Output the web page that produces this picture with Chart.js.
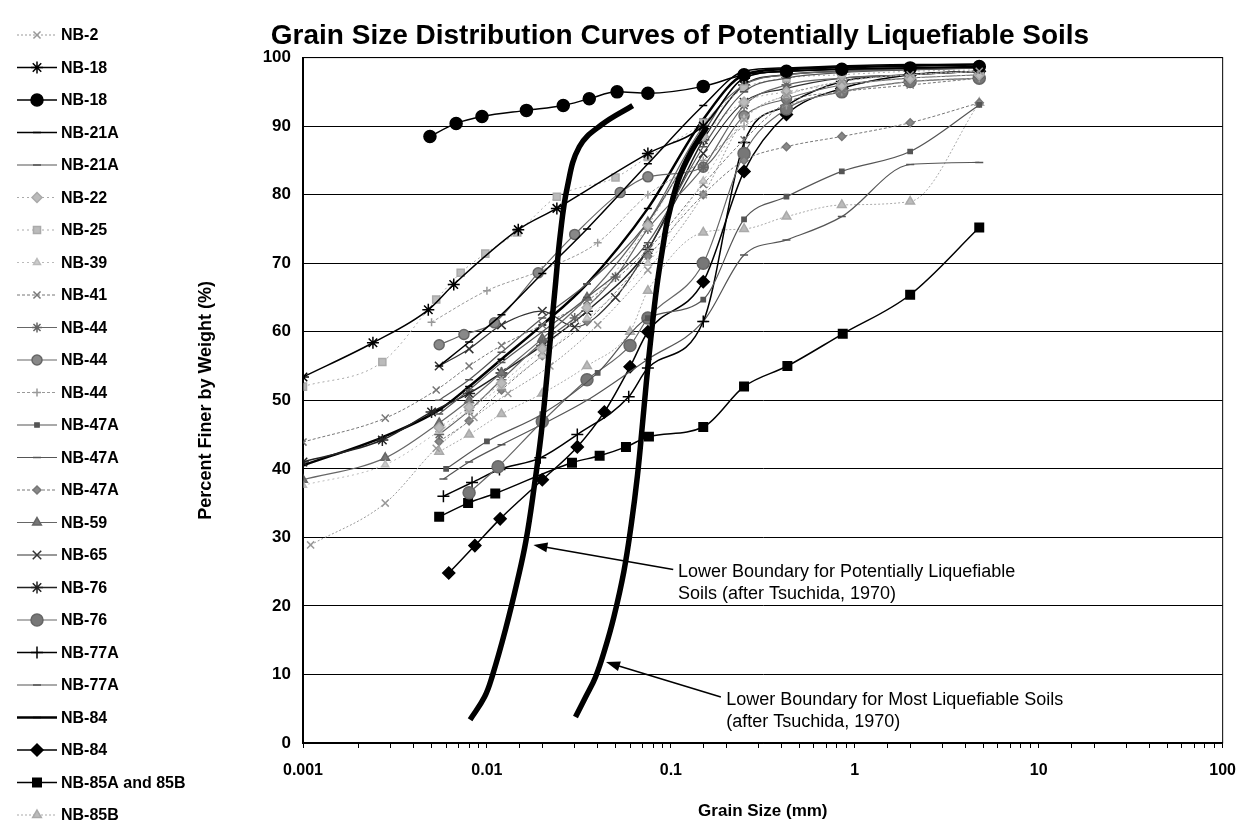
<!DOCTYPE html>
<html>
<head>
<meta charset="utf-8">
<script src="https://cdn.jsdelivr.net/npm/chart.js@4.4.1/dist/chart.umd.min.js"></script>
<style>
html, body { margin: 0; padding: 0; background: #fff; }
#wrap { width: 1249px; height: 828px; }
</style>
</head>
<body>
<div id="wrap"><canvas id="grainChart"></canvas></div>
<script>
// Grain size curves, [size mm, percent finer]
const seriesNames = ['NB-2', 'NB-18', 'NB-18', 'NB-21A', 'NB-21A', 'NB-22', 'NB-25', 'NB-39', 'NB-41',
    'NB-44', 'NB-44', 'NB-44', 'NB-47A', 'NB-47A', 'NB-47A', 'NB-59', 'NB-65', 'NB-76', 'NB-76',
    'NB-77A', 'NB-77A', 'NB-84', 'NB-84', 'NB-85A and 85B', 'NB-85B'];

const nb2 = [[0.0011, 28.9], [0.0028, 35.0], [0.0053, 43.0], [0.0085, 47.5], [0.013, 51], [0.022, 55], [0.04, 61], [0.075, 69], [0.15, 80], [0.25, 91], [0.425, 94.5], [0.85, 96.5], [2.0, 97.5], [4.75, 98]];
const nb18Star = [[0.001, 53.4], [0.0024, 58.4], [0.0048, 63.2], [0.0066, 66.9], [0.0148, 74.9], [0.024, 78], [0.075, 86], [0.15, 90], [0.25, 97], [0.425, 98], [0.85, 98.3], [2.0, 98.5], [4.75, 98.6]];
const nb18Dot = [[0.0049, 88.5], [0.0068, 90.4], [0.0094, 91.4], [0.0164, 92.3], [0.026, 93], [0.036, 94], [0.051, 95], [0.075, 94.8], [0.15, 95.8], [0.25, 97.5], [0.425, 98], [0.85, 98.3], [2.0, 98.5], [4.75, 98.7]];
const nb21a1 = [[0.0055, 55], [0.008, 58.5], [0.012, 62.5], [0.02, 68.5], [0.035, 75], [0.075, 84.5], [0.15, 93], [0.25, 98], [0.425, 98.5], [0.85, 98.8], [2.0, 99], [4.75, 99]];
const nb21a2 = [[0.0055, 48], [0.008, 51.5], [0.012, 55.5], [0.02, 60], [0.035, 65], [0.075, 73], [0.15, 87], [0.25, 95], [0.425, 97], [0.85, 97.8], [2.0, 98.2], [4.75, 98.5]];
const nb22 = [[0.0055, 46], [0.008, 49], [0.012, 52.5], [0.02, 57.5], [0.035, 63.5], [0.075, 75.5], [0.15, 88.5], [0.25, 93.5], [0.425, 95], [0.85, 96], [2.0, 97], [4.75, 97.5]];
const nb25 = [[0.001, 52], [0.0027, 55.6], [0.0053, 64.7], [0.0072, 68.6], [0.0098, 71.4], [0.0146, 74.5], [0.024, 79.7], [0.05, 82.5], [0.075, 85.5], [0.15, 90.5], [0.25, 95.5], [0.425, 97], [0.85, 97.5], [2.0, 98], [4.75, 98.2]];
const nb39 = [[0.001, 37.6], [0.0028, 40.6], [0.0055, 45.5], [0.008, 48.5], [0.012, 52], [0.02, 56.5], [0.035, 62], [0.075, 70], [0.15, 82], [0.25, 91], [0.425, 94.5], [0.85, 96.5], [2.0, 97.5], [4.75, 98]];
const nb41 = [[0.001, 43.9], [0.0028, 47.4], [0.0053, 51.5], [0.008, 55], [0.012, 58], [0.02, 61], [0.035, 64.5], [0.075, 72], [0.15, 81.5], [0.25, 88], [0.425, 93.4], [0.85, 95], [2.0, 96], [4.75, 97]];
const nb44Star = [[0.0055, 45], [0.008, 48.5], [0.012, 53], [0.02, 58.5], [0.03, 62], [0.05, 68], [0.075, 75], [0.15, 84], [0.25, 93], [0.425, 96], [0.85, 97], [2.0, 97.5], [4.75, 98]];
const nb44Dot = [[0.0055, 58.1], [0.0075, 59.6], [0.011, 61.3], [0.019, 68.6], [0.03, 74.2], [0.053, 80.3], [0.075, 82.6], [0.15, 84], [0.25, 91.5], [0.425, 94], [0.85, 96], [2.0, 97], [4.75, 97.5]];
const nb44Plus = [[0.005, 61.4], [0.01, 66], [0.02, 69], [0.04, 73], [0.075, 80], [0.15, 85], [0.25, 90], [0.425, 93], [0.85, 95], [2.0, 96.5], [4.75, 97]];
const nb47a1 = [[0.006, 40], [0.01, 44], [0.02, 48], [0.04, 54], [0.075, 62], [0.15, 64.7], [0.25, 76.4], [0.425, 79.7], [0.85, 83.4], [2.0, 86.3], [4.75, 93.1]];
const nb47a2 = [[0.0055, 50], [0.008, 53], [0.012, 57], [0.02, 62], [0.035, 67], [0.075, 76], [0.15, 89], [0.25, 97], [0.425, 98], [0.85, 98.3], [2.0, 98.5], [4.75, 98.7]];
const nb47a3 = [[0.0055, 44], [0.008, 47], [0.012, 51.5], [0.02, 56.5], [0.035, 61.5], [0.075, 71], [0.15, 80], [0.25, 85], [0.425, 87], [0.85, 88.5], [2.0, 90.5], [4.75, 93.4]];
const nb59 = [[0.001, 38.4], [0.0028, 41.6], [0.0055, 46.7], [0.008, 50], [0.012, 54], [0.02, 59], [0.035, 65], [0.075, 76], [0.15, 90], [0.25, 96], [0.425, 97.5], [0.85, 98], [2.0, 98.3], [4.75, 98.5]];
const nb65 = [[0.0055, 55], [0.008, 57.5], [0.012, 61], [0.02, 63], [0.03, 60.7], [0.05, 65], [0.075, 72], [0.15, 86], [0.25, 93.5], [0.425, 95.5], [0.85, 97], [2.0, 97.5], [4.75, 98]];
const nb76Star = [[0.001, 41], [0.0027, 44.2], [0.005, 48.3], [0.008, 51], [0.012, 54], [0.02, 58], [0.035, 63], [0.075, 72], [0.15, 88], [0.25, 96], [0.425, 97.5], [0.85, 98], [2.0, 98.3], [4.75, 98.5]];
const nb76Dot = [[0.008, 36.5], [0.0115, 40.3], [0.02, 46.9], [0.035, 53], [0.06, 58], [0.075, 62], [0.15, 70], [0.25, 86], [0.425, 92.5], [0.85, 95], [2.0, 96.5], [4.75, 97]];
const nb77aPlus = [[0.0058, 36], [0.0083, 38], [0.0117, 39.9], [0.0195, 41.6], [0.031, 45], [0.059, 50.5], [0.075, 54.7], [0.15, 61.5], [0.25, 87.6], [0.425, 93], [0.85, 96.5], [2.0, 97.5], [4.75, 98]];
const nb77aDash = [[0.0058, 38.5], [0.008, 41], [0.012, 43.5], [0.02, 46.5], [0.035, 50], [0.075, 56], [0.15, 61.5], [0.25, 71.2], [0.425, 73.4], [0.85, 76.8], [2.0, 84.4], [4.75, 84.7]];
const nb84Line = [[0.001, 40.5], [0.0027, 44.6], [0.0055, 48.6], [0.008, 52], [0.012, 56], [0.02, 61], [0.035, 67], [0.075, 78], [0.15, 91], [0.25, 97.5], [0.425, 98.3], [0.85, 98.6], [2.0, 98.8], [4.75, 99]];
const nb84Diamond = [[0.0062, 24.8], [0.0086, 28.8], [0.0118, 32.7], [0.02, 38.4], [0.031, 43.2], [0.0435, 48.3], [0.06, 54.9], [0.075, 60], [0.15, 67.3], [0.25, 83.4], [0.425, 91.7], [0.85, 95.5], [2.0, 97.5], [4.75, 98]];
const nb85ab = [[0.0055, 33], [0.0079, 35], [0.0111, 36.4], [0.029, 40.9], [0.041, 41.9], [0.057, 43.2], [0.076, 44.7], [0.15, 46.1], [0.25, 52], [0.43, 55], [0.86, 59.7], [2.0, 65.4], [4.75, 75.2]];
const nb85b = [[0.0055, 42.5], [0.008, 45], [0.012, 48], [0.02, 51], [0.035, 55], [0.06, 60], [0.075, 66], [0.15, 74.5], [0.25, 75], [0.425, 76.8], [0.85, 78.5], [2.0, 79], [4.75, 93.4]];

const seriesData = [nb2, nb18Star, nb18Dot, nb21a1, nb21a2, nb22, nb25, nb39, nb41, nb44Star, nb44Dot, nb44Plus,
    nb47a1, nb47a2, nb47a3, nb59, nb65, nb76Star, nb76Dot, nb77aPlus, nb77aDash, nb84Line, nb84Diamond, nb85ab, nb85b];

// Tsuchida (1970) boundary curves
const boundPotential = [[0.0081, 3.4], [0.0097, 6.7], [0.0107, 9.8], [0.0126, 16.5], [0.0146, 23.5], [0.0163, 29.5], [0.0181, 37.5], [0.0197, 45], [0.0211, 53], [0.0223, 60], [0.0236, 67], [0.025, 74], [0.0273, 81], [0.0318, 87], [0.042, 90.2], [0.062, 93]];
const boundMost = [[0.0303, 3.8], [0.0344, 6.7], [0.0389, 9.6], [0.0437, 13.6], [0.049, 18.4], [0.0555, 25], [0.061, 32], [0.0658, 39], [0.0698, 46], [0.0735, 52.5], [0.0778, 59], [0.0838, 66.5], [0.0905, 72.4], [0.0965, 76.6], [0.11, 82.2], [0.128, 86.1], [0.157, 89.9]];

const xTickLabels = ['0.001', '0.01', '0.1', '1', '10', '100'];
const noteTexts = [
    ['Lower Boundary for Potentially Liquefiable', 'Soils (after Tsuchida, 1970)'],
    ['Lower Boundary for Most Liquefiable Soils', '(after Tsuchida, 1970)']
];

// styles: line colour, width, dash, marker, marker size, marker fill
const seriesStyles = [
    ['#999', 1, [2, 2], 'crossRot', 5, '#999'],
    ['#000', 1.5, [], 'star', 6, '#000'],
    ['#000', 1.5, [], 'circle', 6, '#000'],
    ['#000', 1.5, [], 'line', 4, '#000'],
    ['#555', 1.2, [], 'line', 4, '#555'],
    ['#aaa', 1, [2, 3], 'rectRot', 5, '#bbb'],
    ['#aaa', 1, [2, 3], 'rect', 5, '#bbb'],
    ['#bbb', 1, [2, 3], 'triangle', 4, '#ccc'],
    ['#777', 1, [3, 2], 'crossRot', 5, '#777'],
    ['#666', 1.2, [], 'star', 5, '#666'],
    ['#666', 1.2, [], 'circle', 5, '#888'],
    ['#999', 1, [3, 2], 'cross', 4, '#999'],
    ['#555', 1.2, [], 'rect', 3, '#555'],
    ['#555', 1.2, [], 'line', 4, '#555'],
    ['#777', 1, [3, 2], 'rectRot', 4, '#888'],
    ['#666', 1.2, [], 'triangle', 5, '#777'],
    ['#333', 1.2, [], 'crossRot', 6, '#333'],
    ['#222', 1.5, [], 'star', 6, '#222'],
    ['#666', 1.2, [], 'circle', 6, '#777'],
    ['#000', 1.5, [], 'cross', 6, '#000'],
    ['#555', 1.2, [], 'line', 4, '#555'],
    ['#000', 2.5, [], 'line', 4, '#000'],
    ['#000', 1.5, [], 'rectRot', 6, '#000'],
    ['#000', 1.5, [], 'rect', 6, '#000'],
    ['#aaa', 1, [2, 2], 'triangle', 5, '#bbb']
];

const toXY = pts => pts.map(p => ({ x: p[0], y: p[1] }));

const datasets = seriesData.map((pts, i) => {
    const s = seriesStyles[i];
    return {
        label: seriesNames[i],
        data: toXY(pts),
        showLine: true,
        borderColor: s[0],
        borderWidth: s[1],
        borderDash: s[2],
        pointStyle: s[3],
        pointRadius: s[4],
        pointBackgroundColor: s[5],
        pointBorderColor: s[0],
        pointBorderWidth: 1.5,
        cubicInterpolationMode: 'monotone'
    };
});

[boundPotential, boundMost].forEach(pts => {
    datasets.push({
        label: 'boundary',
        data: toXY(pts),
        showLine: true,
        borderColor: '#000',
        borderWidth: 5.5,
        pointRadius: 0,
        tension: 0.4,
        order: -1
    });
});

// legend down the left side, drawn by hand so it can run the full height
const sideLegend = {
    id: 'sideLegend',
    afterDraw(chart) {
        const ctx = chart.ctx;
        ctx.save();
        seriesNames.forEach((name, i) => {
            const s = seriesStyles[i];
            const y = 35 + i * 32.5;
            ctx.strokeStyle = s[0];
            ctx.lineWidth = s[1];
            ctx.setLineDash(s[2]);
            ctx.beginPath();
            ctx.moveTo(17, y);
            ctx.lineTo(57, y);
            ctx.stroke();
            ctx.setLineDash([]);
            ctx.fillStyle = s[5];
            ctx.lineWidth = 1.5;
            Chart.helpers.drawPoint(ctx, { pointStyle: s[3], radius: s[4], borderWidth: 1.5, rotation: 0 }, 37, y);
            ctx.fillStyle = '#000';
            ctx.font = 'bold 16px Arial, "Liberation Sans", sans-serif';
            ctx.textBaseline = 'middle';
            ctx.textAlign = 'left';
            ctx.fillText(name, 61, y + 1);
        });
        ctx.restore();
    }
};

// arrows and the two boundary notes
const notePlaces = [
    { text: [0.104, 25.0], tail: [0.103, 25.3], head: [0.0179, 28.9] },
    { text: [0.19, 6.3], tail: [0.187, 6.7], head: [0.0444, 11.8] }
];

const boundaryNotes = {
    id: 'boundaryNotes',
    afterDatasetsDraw(chart) {
        const { ctx, scales: { x, y } } = chart;
        ctx.save();
        notePlaces.forEach((n, i) => {
            const tx = x.getPixelForValue(n.tail[0]), ty = y.getPixelForValue(n.tail[1]);
            const hx = x.getPixelForValue(n.head[0]), hy = y.getPixelForValue(n.head[1]);
            const ang = Math.atan2(hy - ty, hx - tx);
            ctx.strokeStyle = '#000';
            ctx.fillStyle = '#000';
            ctx.lineWidth = 1.5;
            ctx.beginPath();
            ctx.moveTo(tx, ty);
            ctx.lineTo(hx - 10 * Math.cos(ang), hy - 10 * Math.sin(ang));
            ctx.stroke();
            ctx.beginPath();
            ctx.moveTo(hx, hy);
            ctx.lineTo(hx - 14 * Math.cos(ang) + 5 * Math.sin(ang), hy - 14 * Math.sin(ang) - 5 * Math.cos(ang));
            ctx.lineTo(hx - 14 * Math.cos(ang) - 5 * Math.sin(ang), hy - 14 * Math.sin(ang) + 5 * Math.cos(ang));
            ctx.closePath();
            ctx.fill();
            ctx.font = '18px Arial, "Liberation Sans", sans-serif';
            ctx.textAlign = 'left';
            ctx.textBaseline = 'middle';
            const px = x.getPixelForValue(n.text[0]) + 4;
            const py = y.getPixelForValue(n.text[1]);
            noteTexts[i].forEach((line, k) => ctx.fillText(line, px, py + k * 22));
        });
        ctx.restore();
    },
    afterDraw(chart) {
        const a = chart.chartArea;
        const ctx = chart.ctx;
        ctx.save();
        ctx.strokeStyle = '#000';
        ctx.lineWidth = 1;
        ctx.strokeRect(a.left, a.top, a.right - a.left, a.bottom - a.top);
        ctx.restore();
    }
};

new Chart(document.getElementById('grainChart'), {
    type: 'scatter',
    data: { datasets },
    options: {
        responsive: true,
        maintainAspectRatio: false,
        animation: false,
        layout: { padding: { left: 128, right: 17, top: 0, bottom: 0 } },
        plugins: {
            legend: { display: false },
            tooltip: { enabled: false },
            title: {
                display: true,
                text: 'Grain Size Distribution Curves of Potentially Liquefiable Soils',
                color: '#000',
                font: { family: 'Arial, "Liberation Sans", sans-serif', size: 28, weight: 'bold' },
                padding: { top: 19, bottom: 5 }
            }
        },
        scales: {
            x: {
                type: 'logarithmic',
                min: 0.001,
                max: 100,
                afterFit(scale) { scale.height = 85; },
                border: { color: '#000', width: 1.5 },
                grid: { drawOnChartArea: false, drawTicks: true, tickLength: 5, color: '#000' },
                ticks: {
                    autoSkip: false,
                    maxRotation: 0,
                    padding: 13,
                    color: '#000',
                    font: { family: 'Arial, "Liberation Sans", sans-serif', size: 16, weight: 'bold' },
                    callback(value) {
                        const e = Math.log10(value) + 3;
                        return Math.abs(e - Math.round(e)) < 1e-6 ? xTickLabels[Math.round(e)] : '';
                    }
                },
                title: {
                    display: true,
                    text: 'Grain Size (mm)',
                    color: '#000',
                    font: { family: 'Arial, "Liberation Sans", sans-serif', size: 17, weight: 'bold' },
                    padding: { top: 0, bottom: 6 }
                }
            },
            y: {
                min: 0,
                max: 100,
                afterFit(scale) { scale.width = 175; },
                border: { color: '#000', width: 2 },
                grid: { color: '#000', lineWidth: 1, drawTicks: false },
                ticks: {
                    stepSize: 10,
                    padding: 12,
                    color: '#000',
                    font: { family: 'Arial, "Liberation Sans", sans-serif', size: 17, weight: 'bold' }
                },
                title: {
                    display: true,
                    text: 'Percent Finer by Weight (%)',
                    color: '#000',
                    font: { family: 'Arial, "Liberation Sans", sans-serif', size: 18, weight: 'bold' },
                    padding: { top: 67, bottom: 0 }
                }
            }
        }
    },
    plugins: [sideLegend, boundaryNotes]
});
</script>
</body>
</html>
